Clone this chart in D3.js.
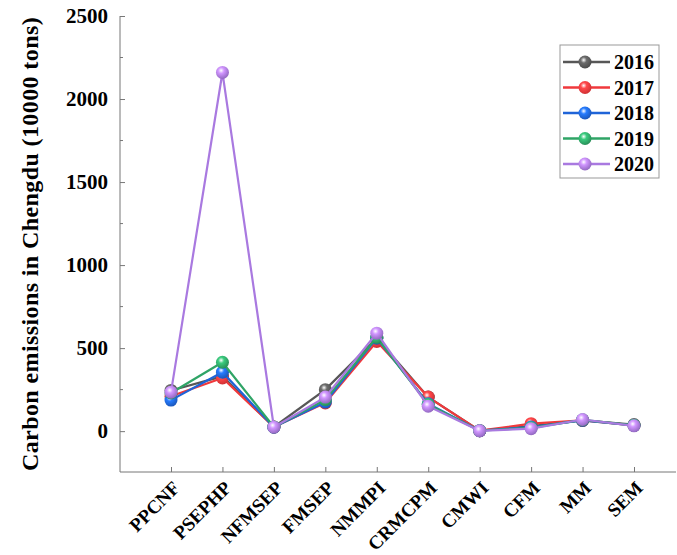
<!DOCTYPE html>
<html><head>
<meta charset="UTF-8">
<script src="https://d3js.org/d3.v7.min.js"></script>
<style>
body{margin:0;background:#fff;}
text{font-family:"Liberation Serif","Times New Roman",serif;font-weight:bold;}
</style>
</head>
<body>
<svg id="vis" width="677" height="555"></svg>
<script>
var sectors = ["PPCNF","PSEPHP","NFMSEP","FMSEP","NMMPI","CRMCPM","CMWI","CFM","MM","SEM"];
var years = ["2016","2017","2018","2019","2020"];
var colors = ["#575757","#f0393c","#1f64d8","#2fa466","#a979e0"];
var v2016 = [245, 330, 25, 250, 560, 205, 3, 30, 65, 40];
var v2017 = [210, 320, 25, 170, 540, 205, 3, 45, 65, 35];
var v2018 = [187, 355, 24, 175, 560, 165, 3, 25, 65, 35];
var v2019 = [230, 415, 25, 190, 565, 160, 3, 20, 68, 35];
var v2020 = [235, 2160, 24, 205, 590, 150, 2, 15, 70, 32];
var yTicks = [0, 500, 1000, 1500, 2000, 2500];

var series = [v2016, v2017, v2018, v2019, v2020];

var svg = d3.select("#vis");
var padL = 120, padR = 676, padT = 16, padB = 472;

var x = d3.scalePoint().domain(sectors).range([171, 634]);
var y = d3.scaleLinear().domain([-246, 2500]).range([padB, padT]);

// gradients for the shiny balls
var defs = svg.append("defs");
for (var i = 0; i < years.length; i++) {
	var c = d3.color(colors[i]);
	var g = defs.append("radialGradient").attr("id", "ball" + i)
		.attr("cx", "40%").attr("cy", "35%").attr("r", "65%");
	g.append("stop").attr("offset", "0%").attr("stop-color", "#ffffff");
	g.append("stop").attr("offset", "35%").attr("stop-color", c.brighter(0.6));
	g.append("stop").attr("offset", "100%").attr("stop-color", c.darker(0.4));
}

// axes
var yAxis = d3.axisLeft(y).tickValues(yTicks).tickSize(-5).tickPadding(12).tickFormat(d3.format("d"));
var gy = svg.append("g").attr("transform", "translate(" + padL + ",0)").call(yAxis);
gy.attr("font-family", null).attr("font-size", null);
gy.select(".domain").remove();
gy.selectAll("text").style("font-size", "21px").attr("fill", "#000");
gy.selectAll("line").attr("stroke", "#777");
// minor ticks
var minor = [250, 750, 1250, 1750, 2250];
svg.append("g").selectAll("line").data(minor).join("line")
	.attr("x1", padL).attr("x2", padL + 3)
	.attr("y1", function(d){ return y(d); }).attr("y2", function(d){ return y(d); })
	.attr("stroke", "#777");

var xAxis = d3.axisBottom(x).tickSize(-5).tickFormat("");
var gx = svg.append("g").attr("transform", "translate(0," + padB + ")").call(xAxis);
gx.select(".domain").remove();
gx.selectAll("line").attr("stroke", "#777");

svg.append("line").attr("x1", padL).attr("x2", padL).attr("y1", padT).attr("y2", padB).attr("stroke", "#777");
svg.append("line").attr("x1", padL).attr("x2", padR).attr("y1", padB).attr("y2", padB).attr("stroke", "#777");

// x labels rotated
svg.append("g").selectAll("text").data(sectors).join("text")
	.attr("transform", function(d){ return "translate(" + (x(d) + 10) + "," + (padB + 17) + ") rotate(-45)"; })
	.attr("text-anchor", "end")
	.style("font-size", "19px")
	.text(function(d){ return d; });

// y title
svg.append("text")
	.attr("transform", "translate(38,244) rotate(-90)")
	.attr("text-anchor", "middle")
	.style("font-size", "24px")
	.style("letter-spacing", "0.4px")
	.text("Carbon emissions in Chengdu (10000 tons)");

// lines and points
var line = d3.line().x(function(d, i){ return x(sectors[i]); }).y(function(d){ return y(d); });
for (var s = 0; s < series.length; s++) {
	var gs = svg.append("g");
	gs.append("path").attr("d", line(series[s])).attr("fill", "none")
		.attr("stroke", colors[s]).attr("stroke-width", 2.2);
	gs.selectAll("circle").data(series[s]).join("circle")
		.attr("cx", function(d, i){ return x(sectors[i]); })
		.attr("cy", function(d){ return y(d); })
		.attr("r", 6.5)
		.attr("fill", "url(#ball" + s + ")");
}

// legend
var lg = svg.append("g");
lg.append("rect").attr("x", 560).attr("y", 45).attr("width", 99).attr("height", 133)
	.attr("fill", "#fff").attr("stroke", "#999");
for (var k = 0; k < years.length; k++) {
	var ly = 62 + k * 25.5;
	lg.append("line").attr("x1", 563).attr("x2", 610).attr("y1", ly).attr("y2", ly)
		.attr("stroke", colors[k]).attr("stroke-width", 2.5);
	lg.append("circle").attr("cx", 585).attr("cy", ly).attr("r", 6.5).attr("fill", "url(#ball" + k + ")");
	lg.append("text").attr("x", 614).attr("y", ly + 7).style("font-size", "20px").text(years[k]);
}
</script>
</body></html>
